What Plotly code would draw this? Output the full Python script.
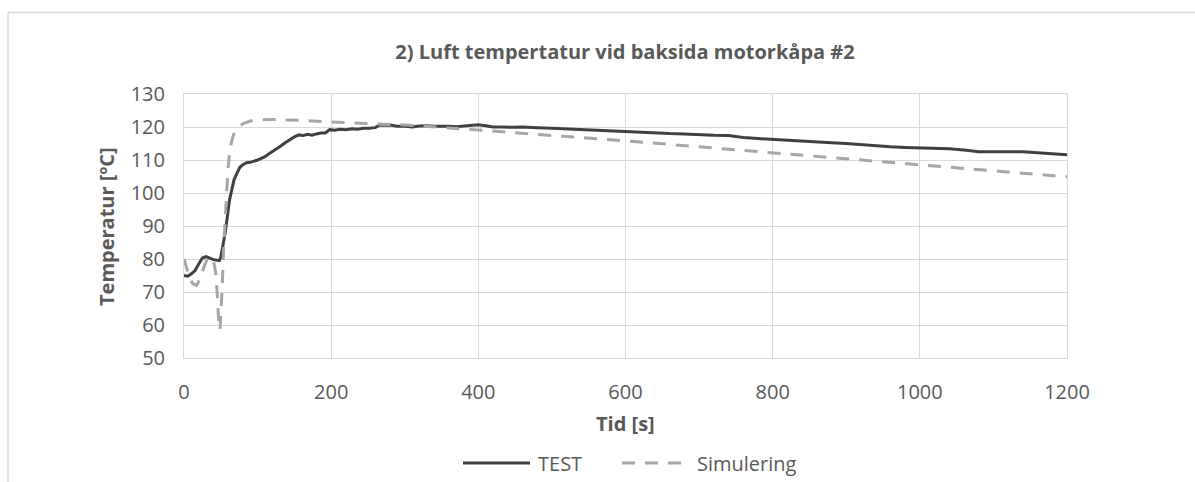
import plotly.graph_objects as go

# Measured air temperature behind the engine cowling
test_t = [0, 5, 10, 15, 20, 25, 30, 35, 40, 45, 48, 50, 53, 56, 59, 62, 65, 68, 72, 76,
          80, 85, 90, 95, 100, 105, 110, 115, 120, 126, 132, 138, 144, 150, 156, 162, 168,
          174, 180, 186, 192, 198, 205, 212, 220, 228, 236, 244, 252, 260, 266, 272, 280,
          290, 300, 310, 320, 330, 340, 350, 360, 370, 380, 390, 400, 410, 420, 430, 440,
          450, 460, 470, 480, 500, 520, 540, 560, 580, 600, 620, 640, 660, 680, 700, 720,
          740, 760, 780, 800, 820, 840, 860, 880, 900, 920, 940, 960, 980, 1000, 1020, 1040,
          1060, 1080, 1100, 1120, 1140, 1160, 1180, 1200]
test_v = [75.0, 74.8, 75.5, 76.5, 78.5, 80.3, 80.7, 80.2, 79.8, 79.6, 79.5, 80.5, 84.0, 88.0,
          93.0, 98.0, 101.0, 104.0, 106.0, 107.8, 108.6, 109.2, 109.3, 109.6, 110.0, 110.5,
          111.0, 111.8, 112.5, 113.5, 114.3, 115.3, 116.2, 117.0, 117.6, 117.4, 117.8, 117.5,
          117.9, 118.2, 118.2, 119.2, 119.0, 119.3, 119.2, 119.5, 119.3, 119.6, 119.6, 119.8,
          120.6, 120.5, 120.6, 120.2, 120.2, 120.0, 120.3, 120.4, 120.2, 120.3, 120.2, 120.1,
          120.3, 120.7, 120.7, 120.4, 120.0, 120.0, 119.9, 119.9, 120.0, 119.8, 119.8, 119.6,
          119.4, 119.2, 118.9, 118.6, 118.5, 118.3, 118.2, 118.0, 117.9, 117.6, 117.5, 117.4,
          116.8, 116.5, 116.2, 115.9, 115.6, 115.4, 115.2, 115.0, 114.6, 114.3, 114.0, 113.8,
          113.7, 113.5, 113.4, 113.0, 112.5, 112.5, 112.6, 112.5, 112.2, 111.9, 111.6]

# Simulated air temperature
sim_t = [0, 4, 8, 12, 17, 22, 27, 32, 36, 40, 43, 45, 47, 49, 50, 52, 54, 56, 58, 60, 63, 67,
         72, 80, 90, 100, 120, 140, 170, 200, 250, 300, 350, 400, 450, 500, 550, 600, 700,
         800, 900, 1000, 1100, 1200]
sim_v = [80.0, 77.0, 74.0, 72.5, 72.0, 74.0, 77.5, 80.2, 80.5, 79.5, 76.0, 70.0, 62.0, 58.5,
         62.0, 72.0, 84.0, 93.0, 101.0, 108.0, 114.0, 117.5, 119.5, 121.0, 121.8, 122.2,
         122.3, 122.2, 121.9, 121.5, 121.1, 120.6, 119.9, 119.1, 118.3, 117.5, 116.7, 115.8,
         114.0, 112.2, 110.3, 108.7, 106.8, 104.9]

x_ticks = [0, 200, 400, 600, 800, 1000, 1200]
y_ticks = [50, 60, 70, 80, 90, 100, 110, 120, 130]

title_text = "2) Luft tempertatur vid baksida motorkåpa #2"
x_title = "Tid [s]"
y_title = "Temperatur [ºC]"
series_names = ["TEST", "Simulering"]

W, H = 1195, 482
L, R, T, B = 184, 1067, 94, 358  # plot area in pixels

TEXT = "#595959"
GRID = "#d9d9d9"
TEST_C = "#404040"
SIM_C = "#a6a6a6"
FONT = "Open Sans"


def px(x):
    return (x - L) / (R - L)


def py(y):
    return (B - y) / (B - T)


fig = go.Figure()
fig.add_trace(go.Scatter(x=test_t, y=test_v, mode="lines", name=series_names[0],
                         line=dict(color=TEST_C, width=3)))
fig.add_trace(go.Scatter(x=sim_t, y=sim_v, mode="lines", name=series_names[1],
                         line=dict(color=SIM_C, width=3, dash="13px,10px")))

axis_common = dict(showgrid=True, gridcolor=GRID, gridwidth=1, zeroline=False,
                   showline=True, linecolor=GRID, linewidth=1, mirror=True,
                   ticks="", tickfont=dict(family=FONT, size=20, color=TEXT))

fig.update_xaxes(range=[0, 1200], tickvals=x_ticks, ticklabelstandoff=16, **axis_common)
fig.update_yaxes(range=[50, 130], tickvals=y_ticks, ticklabelstandoff=14, **axis_common)

shapes = [
    # outer chart frame (top and left edges visible)
    dict(type="line", xref="paper", yref="paper", x0=px(8), x1=px(1300), y0=py(12.5), y1=py(12.5),
         line=dict(color=GRID, width=1.5)),
    dict(type="line", xref="paper", yref="paper", x0=px(8), x1=px(8), y0=py(12.5), y1=py(600),
         line=dict(color=GRID, width=1.5)),
    # legend samples
    dict(type="line", xref="paper", yref="paper", x0=px(463), x1=px(530), y0=py(463), y1=py(463),
         line=dict(color=TEST_C, width=3)),
    dict(type="line", xref="paper", yref="paper", x0=px(622), x1=px(688), y0=py(463), y1=py(463),
         line=dict(color=SIM_C, width=3, dash="13px,10px")),
]

annotations = [
    dict(text=f"<b>{x_title}</b>", xref="paper", yref="paper", x=px(625), y=py(423),
         showarrow=False, xanchor="center", yanchor="middle",
         font=dict(family=FONT, size=20, color=TEXT)),
    dict(text=f"<b>{y_title}</b>", xref="paper", yref="paper", x=px(106), y=py(227),
         showarrow=False, xanchor="center", yanchor="middle", textangle=-90,
         font=dict(family=FONT, size=20, color=TEXT)),
    dict(text=series_names[0], xref="paper", yref="paper", x=px(536), y=py(463),
         showarrow=False, xanchor="left", yanchor="middle",
         font=dict(family=FONT, size=20, color=TEXT)),
    dict(text=series_names[1], xref="paper", yref="paper", x=px(695), y=py(463),
         showarrow=False, xanchor="left", yanchor="middle",
         font=dict(family=FONT, size=20, color=TEXT)),
]

fig.update_layout(
    width=W, height=H,
    margin=dict(l=L, r=W - R, t=T, b=H - B, pad=0),
    paper_bgcolor="white", plot_bgcolor="white",
    showlegend=False,
    title=dict(text=f"<b>{title_text}</b>", xref="container", yref="container",
               x=625 / W, y=1 - 52 / H, xanchor="center", yanchor="middle",
               font=dict(family=FONT, size=20, color=TEXT)),
    shapes=shapes,
    annotations=annotations,
)

fig.write_html("out.html")
